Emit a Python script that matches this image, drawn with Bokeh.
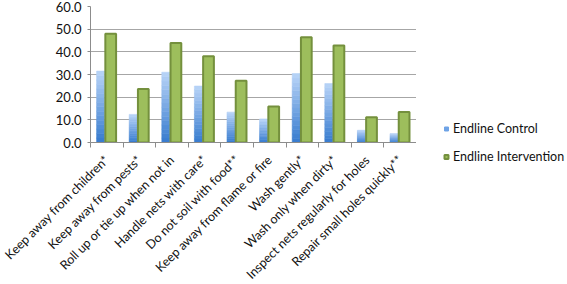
import numpy as np
from bokeh.plotting import figure
from bokeh.layouts import row, column
from bokeh.models import FixedTicker, NumeralTickFormatter, Legend, LegendItem, Range1d
from bokeh.core.properties import value
from bokeh.embed import file_html
from bokeh.resources import INLINE

categories = [
    "Keep away from children*",
    "Keep away from pests*",
    "Roll up or tie up when not in",
    "Handle nets with care*",
    "Do not soil with food**",
    "Keep away from flame or fire",
    "Wash gently*",
    "Wash only when dirty*",
    "Inspect nets regularly for holes",
    "Repair small holes quickly**",
]
control = [31.5, 12.4, 31.0, 24.9, 13.4, 10.4, 30.4, 26.0, 5.4, 3.9]
intervention = [48.0, 23.6, 43.9, 38.0, 27.2, 15.9, 46.4, 42.8, 11.1, 13.5]
series_names = ["Endline Control", "Endline Intervention"]
y_ticks = [0, 10, 20, 30, 40, 50, 60]

FONT = "Lato"
n = len(categories)
centers = [i + 0.5 for i in range(n)]

# layout constants (pixels)
TOTAL_W = 567
TOTAL_H = 284
LEFT = 90
FRAME_W = 326
TOP = 6
FRAME_H = 136
AXIS_B = 9
MAIN_W = LEFT + FRAME_W
MAIN_H = TOP + FRAME_H + AXIS_B
LAB_H = TOTAL_H - MAIN_H

p = figure(width=MAIN_W, height=MAIN_H, output_backend="svg", toolbar_location=None,
           x_range=Range1d(0, n), y_range=Range1d(0, 60),
           min_border_left=LEFT, min_border_right=0, min_border_top=TOP,
           min_border_bottom=AXIS_B)
p.frame_align = False
p.outline_line_color = None

# gradient-filled control bars (per-bar bands, light at top, darker at bottom)
N = 16
top_rgb = np.array([186, 213, 248])
bot_rgb = np.array([54, 123, 207])
ctl_x = [c - 0.19 for c in centers]
for k in range(N):
    frac = (k + 0.5) / N
    rgb = (bot_rgb + (top_rgb - bot_rgb) * frac).astype(int)
    col = "#%02x%02x%02x" % tuple(rgb)
    bottoms = [v * k / N for v in control]
    tops = [v * (k + 1) / N for v in control]
    p.vbar(x=ctl_x, width=0.245, bottom=bottoms, top=tops,
           fill_color=col, line_color=col, line_width=0.6)

p.vbar(x=[c + 0.12 for c in centers], width=0.33, bottom=0, top=intervention,
       fill_color="#9DBE5C", line_color="#74903D", line_width=2)

# axes
xa = p.xaxis[0]
xa.ticker = FixedTicker(ticks=[], minor_ticks=list(range(n + 1)))
xa.major_label_standoff = 0
xa.major_tick_line_color = None
xa.major_tick_out = 0
xa.major_tick_in = 0
xa.minor_tick_line_color = "#8c8c8c"
xa.minor_tick_out = 5
xa.minor_tick_in = 0
xa.axis_line_color = "#8c8c8c"

ya = p.yaxis[0]
ya.ticker = FixedTicker(ticks=y_ticks)
ya.formatter = NumeralTickFormatter(format="0.0")
ya.axis_line_color = "#8c8c8c"
ya.major_tick_line_color = "#8c8c8c"
ya.major_tick_out = 3
ya.major_tick_in = 0
ya.minor_tick_line_color = None
ya.major_label_text_font = FONT
ya.major_label_text_font_size = "13px"
ya.major_label_text_color = "#111111"
ya.major_label_standoff = 6

p.xgrid.grid_line_color = None
p.ygrid.grid_line_color = "#a6a6a6"
p.ygrid.ticker = FixedTicker(ticks=y_ticks)

# category labels panel (same x mapping as the main frame)
px_per_unit = FRAME_W / n
lab = figure(width=MAIN_W, height=LAB_H, output_backend="svg", toolbar_location=None,
             x_range=Range1d(-LEFT / px_per_unit, n), y_range=Range1d(-LAB_H, 0),
             min_border=0, x_axis_location=None, y_axis_location=None)
lab.frame_align = False
lab.outline_line_color = None
lab.xgrid.grid_line_color = None
lab.ygrid.grid_line_color = None
lab.text(x=centers, y=[0] * n, text=categories, angle=np.pi / 4, y_offset=6,
         text_align="right", text_baseline="middle",
         text_font=value(FONT), text_font_size="12.5px", text_color="#111111")

# legend panel
lg = figure(width=TOTAL_W - MAIN_W, height=TOTAL_H, output_backend="svg", toolbar_location=None,
            x_range=Range1d(0, 1), y_range=Range1d(0, 1),
            min_border=0, x_axis_location=None, y_axis_location=None)
lg.frame_align = False
lg.outline_line_color = None
lg.xgrid.grid_line_color = None
lg.ygrid.grid_line_color = None
leg_ctl = lg.square(x=[-5], y=[-5], size=7, fill_color="#6FA3E6", line_color="#6FA3E6")
leg_int = lg.square(x=[-5], y=[-5], size=9, fill_color="#9DBE5C", line_color="#74903D", line_width=2)
legend = Legend(items=[LegendItem(label=series_names[0], renderers=[leg_ctl]),
                       LegendItem(label=series_names[1], renderers=[leg_int])],
                location="left", orientation="vertical",
                background_fill_alpha=0, border_line_color=None,
                label_text_font=FONT, label_text_font_size="12.5px",
                label_text_color="#111111", label_height=12,
                glyph_width=10, glyph_height=10, spacing=13, padding=0, margin=25,
                label_standoff=2)
lg.add_layout(legend, "center")

open("out.html", "w").write(file_html(row(column(p, lab), lg), INLINE))
